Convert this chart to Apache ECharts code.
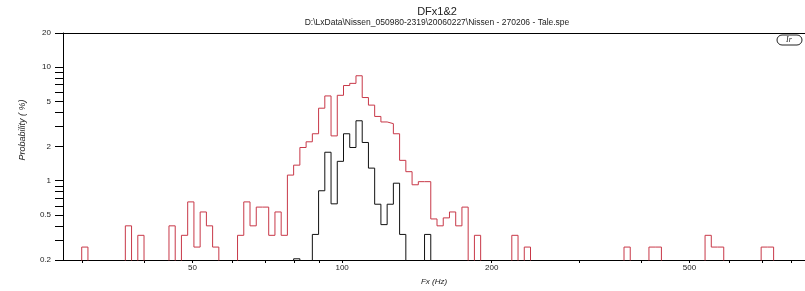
<!DOCTYPE html>
<html>
<head>
<meta charset="utf-8">
<script src="https://cdn.jsdelivr.net/npm/echarts@6/dist/echarts.min.js"></script>
<style>
html,body{margin:0;padding:0;background:#fff;}
#main{width:805px;height:291px;}
</style>
</head>
<body>
<div id="main"></div>
<script>
// 1/24 octave band centres (Hz) and probability (%)
var redHz = [30.36, 37.16, 39.37, 45.49, 48.19, 49.61, 51.06, 52.56, 54.10, 55.68,
	62.50, 64.33, 66.22, 68.16, 70.15, 72.21, 74.33, 76.50, 78.74, 81.05, 83.43, 85.87,
	88.39, 90.98, 93.64, 96.39, 99.21, 102.12, 105.11, 108.19, 111.36, 114.62, 117.98,
	121.44, 125.00, 128.66, 132.43, 136.31, 140.31, 144.42, 148.65, 153.00, 157.49,
	162.10, 166.85, 171.74, 176.77,
	187.29, 222.72, 235.97, 374.57, 420.45, 432.76, 545.26, 561.24, 577.68, 707.11, 727.83];
var redVal = [0.26, 0.40, 0.33, 0.40, 0.33, 0.65, 0.26, 0.53, 0.40, 0.26,
	0.33, 0.65, 0.40, 0.585, 0.585, 0.33, 0.53, 0.33, 1.12, 1.37, 1.96, 2.2,
	2.59, 4.35, 5.58, 2.48, 5.65, 6.89, 7.2, 8.4, 5.4, 4.63, 3.68,
	3.29, 3.18, 2.59, 1.51, 1.2, 0.92, 0.98, 0.98, 0.46, 0.40,
	0.47, 0.53, 0.40, 0.585,
	0.33, 0.33, 0.26, 0.26, 0.26, 0.26, 0.33, 0.26, 0.26, 0.26, 0.26];

var blackHz = [81.05, 88.39, 90.98, 93.64, 96.39, 99.21, 102.12, 105.11, 108.19,
	111.36, 114.62, 117.98, 121.44, 125.00, 128.66, 132.43, 148.65];
var blackVal = [0.205, 0.336, 0.815, 1.78, 0.625, 1.48, 2.59, 1.96, 3.37,
	2.17, 1.29, 0.62, 0.41, 0.62, 0.95, 0.336, 0.336];

// axis ticks / labels
var xTicks = [30, 40, 50, 60, 70, 80, 90, 100, 200, 300, 400, 500, 600, 700, 800];
var xLabels = [50, 100, 200, 500];
var yTicks = [0.2, 0.3, 0.4, 0.5, 0.6, 0.7, 0.8, 0.9, 1, 2, 3, 4, 5, 6, 7, 8, 9, 10, 20];
var yLabels = [0.2, 0.5, 1, 2, 5, 10, 20];

var FLOOR = 0.1;                    // below the axis, gets clipped
var HALF_BAND = Math.pow(2, 1 / 48);

// step outline of a histogram with log-spaced bands
function outline(hz, val) {
	var pts = [];
	for (var i = 0; i < hz.length; i++) {
		var lo = hz[i] / HALF_BAND, hi = hz[i] * HALF_BAND;
		var joinPrev = i > 0 && hz[i] / hz[i - 1] < 1.04;
		var joinNext = i < hz.length - 1 && hz[i + 1] / hz[i] < 1.04;
		if (!joinPrev) pts.push([lo, FLOOR]);
		pts.push([lo, val[i]]);
		pts.push([hi, val[i]]);
		if (!joinNext) pts.push([hi, FLOOR]);
	}
	return pts;
}

var font = '"Liberation Sans", Arial, sans-serif';
var myChart = echarts.init(document.getElementById('main'));
var option = {
	animation: false,
	backgroundColor: '#fff',
	title: {
		text: 'DFx1&2',
		subtext: 'D:\\LxData\\Nissen_050980-2319\\20060227\\Nissen - 270206 - Tale.spe',
		left: 432,
		top: 1,
		textAlign: 'center',
		itemGap: 1,
		textStyle: {fontFamily: font, fontSize: 11, fontWeight: 'normal', color: '#222'},
		subtextStyle: {fontFamily: font, fontSize: 8.5, color: '#222'}
	},
	grid: {left: 63, right: 0, top: 33, bottom: 26},
	xAxis: [{
		type: 'log',
		min: 27.44,
		max: 854,
		name: 'Fx (Hz)',
		nameLocation: 'middle',
		nameGap: 18,
		nameTextStyle: {fontFamily: font, fontSize: 8, fontStyle: 'italic', color: '#222'},
		axisLine: {lineStyle: {color: '#000', width: 1}},
		axisTick: {customValues: xTicks, length: 3, lineStyle: {color: '#000'}},
		axisLabel: {customValues: xLabels, margin: 4, fontFamily: font, fontSize: 8, color: '#222'},
		splitLine: {show: false}
	}, {
		type: 'log',
		position: 'top',
		min: 27.44,
		max: 854,
		axisLine: {lineStyle: {color: '#000', width: 1}},
		axisTick: {show: false},
		axisLabel: {show: false},
		splitLine: {show: false}
	}],
	yAxis: {
		type: 'log',
		min: 0.2,
		max: 20,
		axisLine: {show: true, lineStyle: {color: '#000', width: 1}},
		axisTick: {customValues: yTicks, length: 8, lineStyle: {color: '#000'}},
		axisLabel: {customValues: yLabels, margin: 12, fontFamily: font, fontSize: 8, color: '#222'},
		splitLine: {show: false}
	},
	graphic: [{
		type: 'text',
		x: 22,
		y: 130,
		rotation: Math.PI / 2,
		style: {text: 'Probability ( %)', font: 'italic 9px ' + font, fill: '#222', align: 'center', verticalAlign: 'middle'}
	}, {
		type: 'rect',
		shape: {x: 777, y: 35, width: 25, height: 10, r: 5},
		style: {fill: 'none', stroke: '#222', lineWidth: 1}
	}, {
		type: 'text',
		x: 789,
		y: 40,
		style: {text: 'Ir', font: 'italic 8px "Liberation Serif", serif', fill: '#222', align: 'center', verticalAlign: 'middle'}
	}],
	series: [{
		name: 'red',
		type: 'line',
		data: outline(redHz, redVal),
		showSymbol: false,
		clip: true,
		lineStyle: {color: '#c83848', width: 1},
		z: 2
	}, {
		name: 'black',
		type: 'line',
		data: outline(blackHz, blackVal),
		showSymbol: false,
		clip: true,
		lineStyle: {color: '#111', width: 1},
		z: 3
	}]
};
myChart.setOption(option);
</script>
</body>
</html>
